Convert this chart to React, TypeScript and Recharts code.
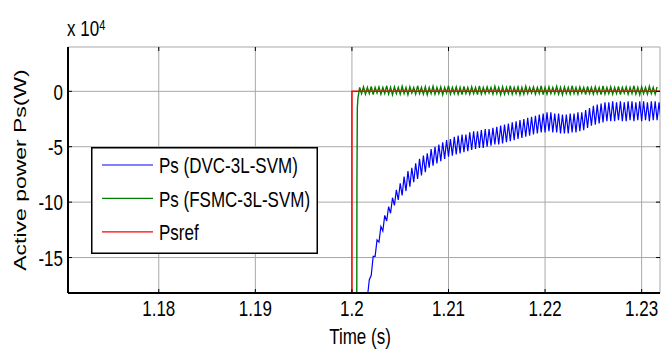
import { LineChart, Line, XAxis, YAxis, CartesianGrid, Legend } from 'recharts'

// axes
const X_DOMAIN = [1.1706, 1.2319]
const Y_DOMAIN = [-18.2, 4]
const X_TICKS = [1.18, 1.19, 1.2, 1.21, 1.22, 1.23]
const Y_TICKS = [-15, -10, -5, 0]

// Psref: step to 0 at t = 1.2 s (values in x 10^4 W)
const psrefT = [1.1706, 1.2, 1.2, 1.2319]
const psrefV = [-25, -25, 0, 0]

// Ps (FSMC-3L-SVM): fast rise then ripple around 0
const fsmcRiseT = [1.2005, 1.20052, 1.20056, 1.20062, 1.2007]
const fsmcRiseV = [-20, -8, -1.5, -0.6, -0.2]
const FSMC_T0 = 1.2008
const FSMC_DT = 0.0002
const fsmcRipple = [
  0.35, -0.2, 0.4, -0.25, 0.35, -0.2, 0.45, -0.3, 0.35, -0.15,
  0.4, -0.25, 0.35, -0.2, 0.5, -0.25, 0.35, -0.3, 0.4, -0.2,
  0.35, -0.25, 0.45, -0.2, 0.35, -0.3, 0.4, -0.15, 0.35, -0.25,
  0.5, -0.2, 0.35, -0.25, 0.4, -0.3, 0.35, -0.2, 0.45, -0.25,
  0.35, -0.2, 0.4, -0.3, 0.35, -0.15, 0.5, -0.25, 0.35, -0.2,
  0.4, -0.25, 0.35, -0.3, 0.45, -0.2, 0.35, -0.25, 0.4, -0.2,
  0.35, -0.3, 0.5, -0.25, 0.35, -0.2, 0.4, -0.15, 0.35, -0.25,
  0.45, -0.2, 0.35, -0.3, 0.4, -0.25, 0.35, -0.2, 0.5, -0.25,
  0.35, -0.2, 0.4, -0.3, 0.35, -0.25, 0.45, -0.2, 0.35, -0.15,
  0.4, -0.25, 0.35, -0.2, 0.5, -0.3, 0.35, -0.25, 0.4, -0.2,
  0.35, -0.2, 0.45, -0.25, 0.35, -0.3, 0.4, -0.2, 0.35, -0.25,
  0.5, -0.2, 0.35, -0.25, 0.4, -0.15, 0.35, -0.3, 0.45, -0.2,
  0.35, -0.25, 0.4, -0.2, 0.35, -0.3, 0.5, -0.25, 0.35, -0.2,
  0.4, -0.25, 0.35, -0.2, 0.45, -0.3, 0.35, -0.15, 0.4, -0.25,
  0.35, -0.2, 0.5, -0.25, 0.35, -0.3, 0.4, -0.2, 0.35, -0.25,
  0.45, -0.2, 0.35, -0.25, 0.4,
]

// Ps (DVC-3L-SVM): slow recovery with ripple
const DVC_T0 = 1.2016
const DVC_DT = 0.0002
const dvcValues = [
  -18.6, -17.0, -16.6, -14.9, -14.9, -13.4, -13.6, -12.2, -12.6, -11.2,
  -11.7, -10.4, -11.0, -9.6, -10.3, -8.9, -9.8, -8.3, -9.4, -7.7,
  -9.0, -7.2, -8.6, -6.9, -8.2, -6.5, -7.9, -6.1, -7.6, -5.8,
  -7.3, -5.6, -6.9, -5.2, -6.7, -5.0, -6.5, -4.8, -6.3, -4.6,
  -6.1, -4.4, -5.9, -4.3, -5.8, -4.1, -5.7, -4.0, -5.6, -3.9,
  -5.5, -3.9, -5.4, -3.7, -5.3, -3.6, -5.2, -3.6, -5.1, -3.5,
  -5.1, -3.4, -5.0, -3.4, -4.9, -3.3, -4.8, -3.2, -4.8, -3.1,
  -4.7, -3.0, -4.6, -2.9, -4.5, -2.8, -4.4, -2.7, -4.3, -2.6,
  -4.2, -2.5, -4.1, -2.4, -4.0, -2.3, -3.9, -2.2, -3.8, -2.1,
  -3.7, -2.0, -3.7, -1.9, -3.6, -1.9, -3.7, -2.0, -3.7, -2.0,
  -3.8, -2.1, -3.8, -2.1, -3.8, -2.0, -3.7, -2.0, -3.7, -1.9,
  -3.6, -1.9, -3.5, -1.7, -3.3, -1.5, -3.1, -1.3, -3.0, -1.2,
  -2.9, -1.1, -2.8, -1.0, -2.7, -1.0, -2.7, -0.9, -2.7, -1.0,
  -2.6, -0.9, -2.7, -1.0, -2.7, -0.9, -2.6, -0.9, -2.7, -1.0,
  -2.6, -0.9, -2.7, -0.9, -2.6, -1.0, -2.7, -0.9, -2.6, -0.9,
  -2.6, -1.0, -2.6,
]

const psrefData = psrefT.map((t, i) => ({ t, p: psrefV[i] }))
const fsmcData = [
  ...fsmcRiseT.map((t, i) => ({ t, p: fsmcRiseV[i] })),
  ...fsmcRipple.map((p, i) => ({ t: +(FSMC_T0 + i * FSMC_DT).toFixed(5), p })),
]
const dvcData = dvcValues.map((p, i) => ({ t: +(DVC_T0 + i * DVC_DT).toFixed(5), p }))

const PLOT = { left: 68, top: 47, right: 660, bottom: 293 }
const FONT = '"Liberation Sans", Arial, Helvetica, sans-serif'
const STRETCH = 1.35

function SText({ x, y, anchor = 'middle', size = 17, rotate = false, children }: any) {
  return (
    <g transform={`translate(${x},${y}) scale(1,${STRETCH})${rotate ? ' rotate(-90)' : ''}`}>
      <text x={0} y={0} dy="0.36em" textAnchor={anchor} fontSize={size} fontFamily={FONT} fill="#000">
        {children}
      </text>
    </g>
  )
}

const XTick = (props: any) => {
  const { x, payload } = props
  return (
    <g>
      <line x1={x} x2={x} y1={PLOT.bottom} y2={PLOT.bottom - 4} stroke="#000" />
      <line x1={x} x2={x} y1={PLOT.top} y2={PLOT.top + 4} stroke="#000" />
      <SText x={x} y={308}>{String(payload.value)}</SText>
    </g>
  )
}

const YTick = (props: any) => {
  const { y, payload } = props
  return (
    <g>
      <line x1={PLOT.left} x2={PLOT.left + 4} y1={y} y2={y} stroke="#000" />
      <line x1={PLOT.right - 4} x2={PLOT.right} y1={y} y2={y} stroke="#000" />
      <SText x={63} y={y} anchor="end">{String(payload.value)}</SText>
    </g>
  )
}

const renderLegend = (props: any) => {
  const items = props.payload || []
  return (
    <svg width={227} height={107} style={{ display: 'block' }}>
      <rect x={0.75} y={0.75} width={225.5} height={105.5} fill="#fff" stroke="#000" strokeWidth={1.5} />
      {items.map((it: any, i: number) => {
        const y = 18 + i * 33.4
        return (
          <g key={it.value}>
            <line x1={11} x2={62} y1={y} y2={y} stroke={it.color} strokeWidth={1.2} />
            <SText x={68} y={y} anchor="start">{it.value}</SText>
          </g>
        )
      })}
    </svg>
  )
}

export default function App() {
  return (
    <div style={{ position: 'absolute', left: 0, top: 0, background: '#fff' }}>
      <LineChart width={661} height={351} margin={{ top: 47, right: 1, left: 0, bottom: 0 }}>
        <CartesianGrid stroke="#a8a8a8" strokeWidth={1} />
        <XAxis
          dataKey="t"
          type="number"
          domain={X_DOMAIN}
          ticks={X_TICKS}
          interval={0}
          allowDataOverflow
          height={58}
          tick={XTick}
          tickLine={false}
          axisLine={{ stroke: '#000', strokeWidth: 2 }}
        />
        <XAxis
          xAxisId="top"
          orientation="top"
          type="number"
          domain={X_DOMAIN}
          allowDataOverflow
          height={0}
          tick={false}
          tickLine={false}
          axisLine={{ stroke: '#000', strokeWidth: 2 }}
        />
        <YAxis
          type="number"
          domain={Y_DOMAIN}
          ticks={Y_TICKS}
          interval={0}
          allowDataOverflow
          width={68}
          tick={YTick}
          tickLine={false}
          axisLine={{ stroke: '#000', strokeWidth: 2 }}
        />
        <YAxis
          yAxisId="right"
          orientation="right"
          type="number"
          domain={Y_DOMAIN}
          allowDataOverflow
          width={0}
          tick={false}
          tickLine={false}
          axisLine={{ stroke: '#000', strokeWidth: 2 }}
        />
        <Line data={dvcData} dataKey="p" name="Ps (DVC-3L-SVM)" type="linear" stroke="#0000ff" strokeWidth={1.2} dot={false} isAnimationActive={false} />
        <Line data={fsmcData} dataKey="p" name="Ps (FSMC-3L-SVM)" type="linear" stroke="#008000" strokeWidth={1.4} dot={false} isAnimationActive={false} />
        <Line data={psrefData} dataKey="p" name="Psref" type="linear" stroke="#ff0000" strokeWidth={1.5} dot={false} isAnimationActive={false} />
        <Legend
          layout="vertical"
          align="center"
          verticalAlign="middle"
          content={renderLegend}
          wrapperStyle={{ left: 91, top: 147, width: 227, height: 107 }}
        />
        <SText x={20} y={170} rotate>Active power Ps(W)</SText>
        <SText x={360} y={336}>Time (s)</SText>
        <g transform={`translate(67,28) scale(1,${STRETCH})`}>
          <text x={0} y={0} dy="0.36em" fontSize={17} fontFamily={FONT} fill="#000">
            x 10<tspan dy={-5} fontSize={11}>4</tspan>
          </text>
        </g>
      </LineChart>
    </div>
  )
}
